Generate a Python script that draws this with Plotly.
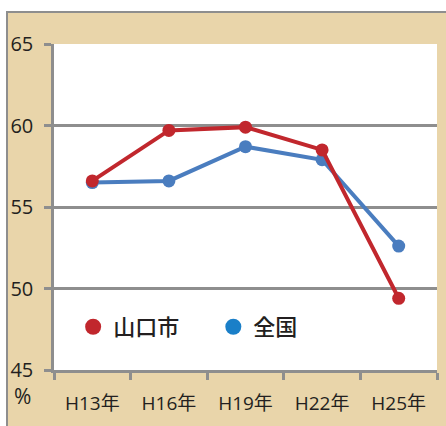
import plotly.graph_objects as go

categories = ["H13年", "H16年", "H19年", "H22年", "H25年"]
yamaguchi = [56.6, 59.7, 59.9, 58.5, 49.4]
national = [56.5, 56.6, 58.7, 57.9, 52.6]
y_ticks = [45, 50, 55, 60, 65]

RED = "#C1272D"
BLUE = "#4A7DBF"
LEG_BLUE = "#1A7FC8"
GRAY = "#8E8E8E"
BEIGE = "#E9D5AA"
TXT = "#231F20"
FONT = "Open Sans, Noto Sans CJK JP, sans-serif"

fig = go.Figure()
fig.add_trace(go.Scatter(x=categories, y=national, mode="lines+markers",
                         line=dict(color=BLUE, width=4), marker=dict(color=BLUE, size=13),
                         showlegend=False, cliponaxis=False))
fig.add_trace(go.Scatter(x=categories, y=yamaguchi, mode="lines+markers",
                         line=dict(color=RED, width=4), marker=dict(color=RED, size=13),
                         showlegend=False, cliponaxis=False))
# legend-only entries
fig.add_trace(go.Scatter(x=[None], y=[None], mode="markers", name="山口市",
                         marker=dict(color=RED, size=16), legend="legend"))
fig.add_trace(go.Scatter(x=[None], y=[None], mode="markers", name="全国",
                         marker=dict(color=LEG_BLUE, size=16), legend="legend2"))

leg_font = dict(family="Noto Sans CJK JP", size=22, color=TXT, weight=500)
fig.update_layout(
    width=446, height=426,
    margin=dict(l=54, r=9, t=44, b=56),
    paper_bgcolor="white",
    plot_bgcolor="white",
    font=dict(family=FONT, color=TXT, size=17),
    legend=dict(x=0.05, y=0.132, xanchor="left", yanchor="middle",
                bgcolor="rgba(0,0,0,0)", itemwidth=30, font=leg_font),
    legend2=dict(x=0.416, y=0.132, xanchor="left", yanchor="middle",
                 bgcolor="rgba(0,0,0,0)", itemwidth=30, font=leg_font),
    shapes=[dict(type="rect", xref="paper", yref="paper", layer="below",
                 x0=-47/383, x1=1 + 12/383, y0=-70/326, y1=1 + 32/326,
                 fillcolor=BEIGE, line=dict(color=GRAY, width=2)),
            dict(type="rect", xref="paper", yref="paper", layer="below",
                 x0=0, x1=1, y0=0, y1=1, fillcolor="white", line=dict(width=0))],
    annotations=[dict(text="%", xref="paper", yref="paper", x=-32/383, y=-26/326,
                      xanchor="center", yanchor="middle", showarrow=False,
                      font=dict(size=21, family=FONT, color=TXT))],
)
fig.update_xaxes(type="category", range=[-0.5, 4.5], tickson="boundaries",
                 ticks="outside", ticklen=7, tickwidth=2.5, tickcolor=GRAY,
                 showline=True, linecolor=GRAY, linewidth=2.5, showgrid=False,
                 ticklabelstandoff=14, tickfont=dict(size=19, family=FONT, color=TXT),
                 fixedrange=True, automargin=False)
fig.update_yaxes(range=[45, 65], tickvals=y_ticks, ticks="outside", ticklen=7,
                 tickwidth=2.5, tickcolor=GRAY, showline=True, linecolor=GRAY,
                 linewidth=2.5, showgrid=True, gridcolor=GRAY, gridwidth=2.5,
                 zeroline=False, ticklabelstandoff=7,
                 tickfont=dict(size=20, family=FONT, color=TXT), fixedrange=True,
                 automargin=False)

fig.write_html("out.html", config={"displayModeBar": False},
               post_script="document.body.style.margin='0px';")
